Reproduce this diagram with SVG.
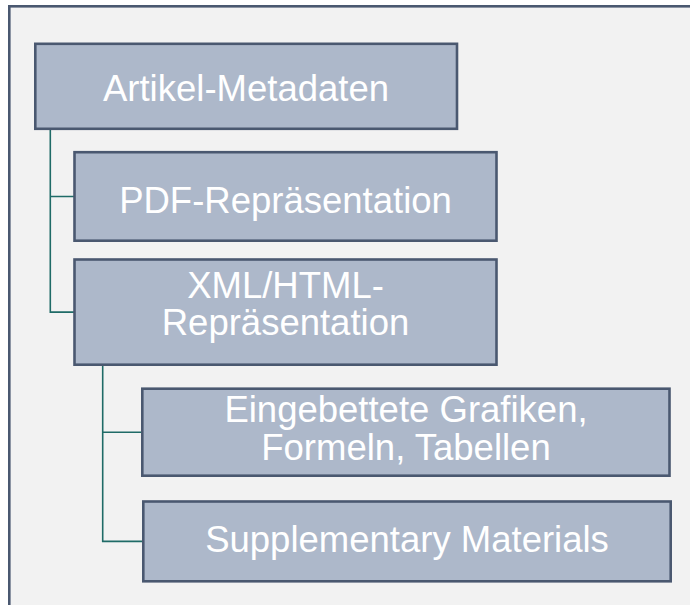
<svg xmlns="http://www.w3.org/2000/svg" width="690" height="605" viewBox="0 0 690 605">
<style>
.node rect{fill:#adb8ca;stroke:#4a5870;stroke-width:2.6}
.node text{fill:#ffffff;font-family:"Liberation Sans",Arial,sans-serif;font-size:36.5px;text-anchor:middle}
#connectors path{fill:none;stroke:#1f6b67;stroke-width:1.6}
</style>
<rect x="0" y="0" width="690" height="605" fill="#ffffff"/>
<rect id="frame" x="9.3" y="6.3" width="700" height="620" fill="#f2f2f2" stroke="#4a5870" stroke-width="2.6"/>
<g id="connectors">
<path d="M50.3 130 V312.1 H74.5 M50.3 196.5 H74.5"/>
<path d="M102.7 366 V541.4 H143.3 M102.7 432.2 H142.3"/>
</g>
<g id="artikel" class="node">
<rect x="35.3" y="43.8" width="421.7" height="85"/>
<text x="246" y="100.7">Artikel-Metadaten</text>
</g>
<g id="pdf" class="node">
<rect x="74.5" y="152.2" width="422" height="88.5"/>
<text x="285.5" y="212.7">PDF-Repräsentation</text>
</g>
<g id="xml" class="node">
<rect x="74.5" y="259.5" width="422" height="105.2"/>
<text x="285.5" y="298.3">XML/HTML-</text>
<text x="285.5" y="335">Repräsentation</text>
</g>
<g id="eingebettete" class="node">
<rect x="142.3" y="388.7" width="527.2" height="87"/>
<text x="406" y="421.7">Eingebettete Grafiken,</text>
<text x="406" y="460">Formeln, Tabellen</text>
</g>
<g id="supplementary" class="node">
<rect x="143.3" y="501.5" width="527.4" height="79.8"/>
<text x="407" y="552.3">Supplementary Materials</text>
</g>
</svg>
